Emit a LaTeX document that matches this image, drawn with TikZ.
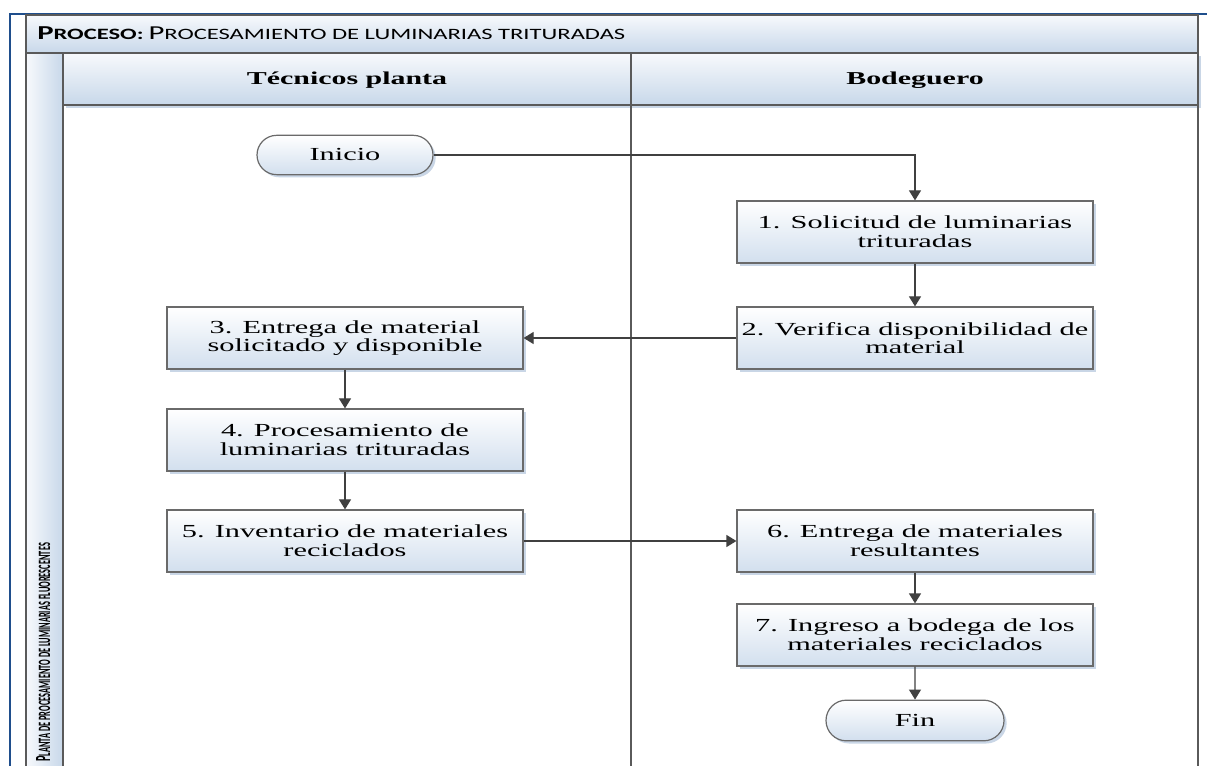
\documentclass[tikz,border=0pt]{standalone}
\usepackage{fontspec}
\usepackage{graphicx}
\setmainfont{Liberation Serif}[FakeStretch=1.65]
\newfontfamily\calibfont{Carlito}
\usetikzlibrary{shapes.misc,arrows.meta,shadows}

\definecolor{framebl}{HTML}{1F4E8C}
\definecolor{poolgray}{HTML}{5A5A5A}
\definecolor{boxgray}{HTML}{6A6A6A}
\definecolor{linegray}{HTML}{404040}
\definecolor{boxblue}{HTML}{D2DFEE}
\definecolor{hdrtop}{HTML}{F7F9FC}
\definecolor{hdrbot}{HTML}{C8D8EA}
\definecolor{shadowbl}{HTML}{C9D6E6}

\newcommand\boxfont{\fontsize{13.8}{14}\selectfont}
\newcommand\hdrfont{\fontsize{13.6}{14}\selectfont\bfseries}
% hand-made small capitals: first letter full size, rest smaller
\newcommand\capsz[1]{{\fontsize{14}{14}\selectfont#1}}
\newcommand\smsz[1]{{\fontsize{11.2}{11.2}\selectfont#1}}

\tikzset{
  lanebar/.style={draw=poolgray, line width=1.3pt, top color=hdrtop, bottom color=hdrbot},
  poolline/.style={draw=poolgray, line width=1.3pt},
  procbox/.style={draw=boxgray, line width=0.9pt, top color=white, bottom color=boxblue,
    minimum width=267pt, minimum height=46.5pt, align=center, inner sep=0pt, font=\boxfont,
    drop shadow={shadow xshift=2pt, shadow yshift=-2pt, fill=shadowbl, opacity=1}},
  termbox/.style={rounded rectangle, draw=boxgray, line width=0.9pt, top color=white,
    bottom color=boxblue, minimum width=132pt, minimum height=29.5pt, inner sep=0pt,
    font=\boxfont,
    drop shadow={shadow xshift=2pt, shadow yshift=-2pt, fill=shadowbl, opacity=1}},
  conn/.style={draw=linegray, line width=0.9pt, -{Triangle[length=7.5pt,width=9pt]}}
}

\begin{document}
\begin{tikzpicture}[x=0.75pt,y=-0.75pt]
  \fill[white] (0,0) rectangle (1207,766);
  \useasboundingbox (0,0) rectangle (1207,766);

  % outer frame
  \draw[framebl, line width=1.6pt] (10,766) -- (10,14) -- (1207,14);

  % title bar of the pool
  \path[lanebar] (26,15) rectangle (1198,53);
  \node[anchor=base west, inner sep=0pt] (title) at (37,40)
    {\resizebox{441pt}{9.6pt}{\calibfont\bfseries\capsz{P}\smsz{ROCESO:}\mdseries\ \capsz{P}\smsz{ROCESAMIENTO DE LUMINARIAS TRITURADAS}}};

  % vertical pool strip
  \path[draw=poolgray, line width=1.3pt, left color=hdrtop, right color=hdrbot] (26,53) rectangle (63,768);
  \node[rotate=90, anchor=base west, inner sep=0pt] (pool) at (50,762)
    {\resizebox{164pt}{10.5pt}{\calibfont\bfseries\capsz{P}\smsz{LANTA DE PROCESAMIENTO DE LUMINARIAS FLUORESCENTES}}};

  % lane headers
  \path[lanebar, drop shadow={shadow xshift=2pt, shadow yshift=-2pt, fill=shadowbl, opacity=1}] (63,53) rectangle (631,105);
  \path[lanebar, drop shadow={shadow xshift=2pt, shadow yshift=-2pt, fill=shadowbl, opacity=1}] (631,53) rectangle (1198,105);
  \node[font=\hdrfont] (lane1) at (347,80) {Técnicos planta};
  \node[font=\hdrfont] (lane2) at (915,80) {Bodeguero};

  % lane separators
  \draw[poolline] (631,105) -- (631,768);
  \draw[poolline] (1198,105) -- (1198,768);

  % flow nodes
  \node[termbox] (inicio) at (345,155) {Inicio};
  \node[procbox] (b1) at (915,232) {1. Solicitud de luminarias\\trituradas};
  \node[procbox] (b2) at (915,338) {2. Verifica disponibilidad de\\material};
  \node[procbox] (b3) at (345,338) {3. Entrega de material\\solicitado y disponible};
  \node[procbox] (b4) at (345,440) {4. Procesamiento de\\luminarias trituradas};
  \node[procbox] (b5) at (345,541) {5. Inventario de materiales\\reciclados};
  \node[procbox] (b6) at (915,541) {6. Entrega de materiales\\resultantes};
  \node[procbox] (b7) at (915,635) {7. Ingreso a bodega de los\\materiales reciclados};
  \node[termbox, minimum width=133.5pt, minimum height=30.5pt] (fin) at (915,720.5) {Fin};

  % connectors
  \draw[conn] (inicio.east) -| (b1.north);
  \draw[conn] (b1) -- (b2);
  \draw[conn] (b2.west) -- (b3.east);
  \draw[conn] (b3) -- (b4);
  \draw[conn] (b4) -- (b5);
  \draw[conn] (b5.east) -- (b6.west);
  \draw[conn] (b6) -- (b7);
  \draw[conn] (b7) -- (fin);
\end{tikzpicture}
\end{document}
